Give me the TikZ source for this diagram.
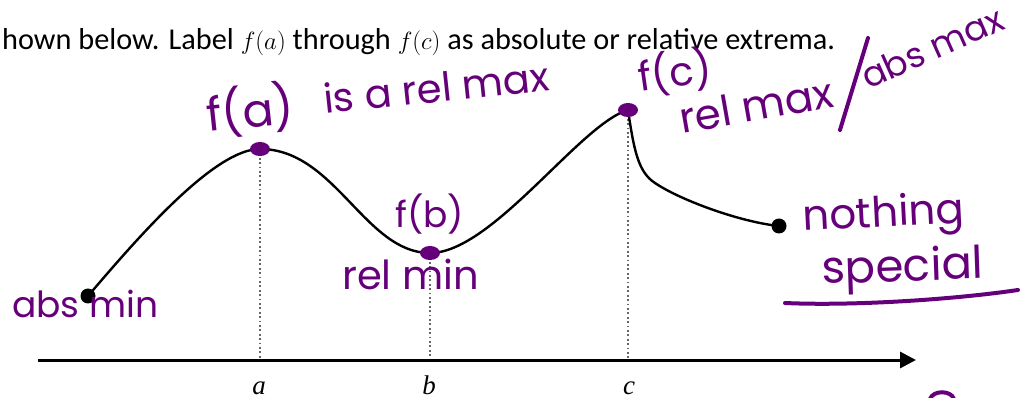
\documentclass[tikz,border=0pt]{standalone}
\usepackage{fontspec}
\setmainfont{Carlito}
\newfontfamily\hand{Poppins}
\newfontfamily\serifit{Liberation Serif}
\usetikzlibrary{arrows.meta,shapes.geometric}
\definecolor{ink}{RGB}{102,0,122}
\begin{document}
\begin{tikzpicture}[x=1pt,y=-1pt,
  curve/.style={line width=2.4pt, black},
  guide/.style={line width=2.4pt, black!60, dash pattern=on 1.8pt off 2.6pt},
  axisline/.style={line width=3pt, -{Triangle[length=16pt,width=16pt]}},
  hw/.style={text=ink, font=\hand\fontsize{#1}{#1}\selectfont, inner sep=0pt, anchor=base west},
  hw/.default=40,
  pdot/.style={ellipse, fill=ink, inner sep=0pt, minimum width=20pt, minimum height=14pt},
  bdot/.style={circle, fill=black, inner sep=0pt, minimum size=15pt},
  ticklabel/.style={font=\serifit\itshape\fontsize{27}{30}\selectfont, anchor=base, inner sep=0pt},
  stroke/.style={ink, line width=4pt, line cap=round}
]
\useasboundingbox (0,0) rectangle (1021,398);
% key points
\coordinate (P0) at (88,296);
\coordinate (A) at (260,149);
\coordinate (B) at (430,253);
\coordinate (C) at (628,110);
\coordinate (K) at (655,183);
\coordinate (E) at (779,226);
\coordinate (ax0) at (38,360);
\coordinate (ax1) at (916,360);
% guides
\draw[guide] (A) -- (A |- ax0);
\draw[guide] (B) -- (B |- ax0);
\draw[guide] (C) -- (C |- ax0);
% axis
\draw[axisline] (ax0) -- (ax1);
% curve
\draw[curve] (P0) .. controls (140,235) and (215,149) .. (A)
  .. controls (335,149) and (365,253) .. (B)
  .. controls (492,253) and (580,124) .. (C)
  .. controls (634,150) and (638,172) .. (K)
  .. controls (680,200) and (740,222) .. (E);
% dots
\node[bdot] (d0) at (P0) {};
\node[bdot] (dE) at (E) {};
\node[pdot] (dA) at (A) {};
\node[pdot] (dB) at (B) {};
\node[pdot] (dC) at (C) {};
% tick labels
\node[ticklabel] (la) at (259,394) {a};
\node[ticklabel] (lb) at (429,394) {b};
\node[ticklabel] (lc) at (629,394) {c};
% header
\node[anchor=base west, inner sep=0pt, font=\fontsize{30.3}{34}\selectfont] (hdr) at (2,50)
  {hown below. Label $f(a)$ through $f(c)$ as absolute or relative extrema.};
% handwriting
\node[hw=46, rotate=6] (fa) at (208,132) {f(a)};
\node[hw=40, rotate=6] (fatxt) at (325,114) {is a rel max};
\node[hw=40, rotate=8] (fc) at (640,92) {f(c)};
\node[hw=42, rotate=10] (relmax) at (682,134) {rel max};
\draw[stroke] (868,38) -- (840,130);
\node[hw=35, rotate=24] (absmax) at (868,90) {abs max};
\node[hw=36] (fb) at (395,228) {f(b)};
\node[hw=40] (relmin) at (342,290) {rel min};
\node[hw=36] (absmin) at (12,318) {abs min};
\node[hw=42, rotate=3] (nothing) at (803,231) {nothing};
\node[hw=45, rotate=2] (special) at (822,284) {special};
\draw[stroke] (785,303) .. controls (850,306) and (950,300) .. (1018,290);
\draw[stroke] (930,399) .. controls (933,390) and (951,390) .. (954,399);
\end{tikzpicture}
\end{document}
